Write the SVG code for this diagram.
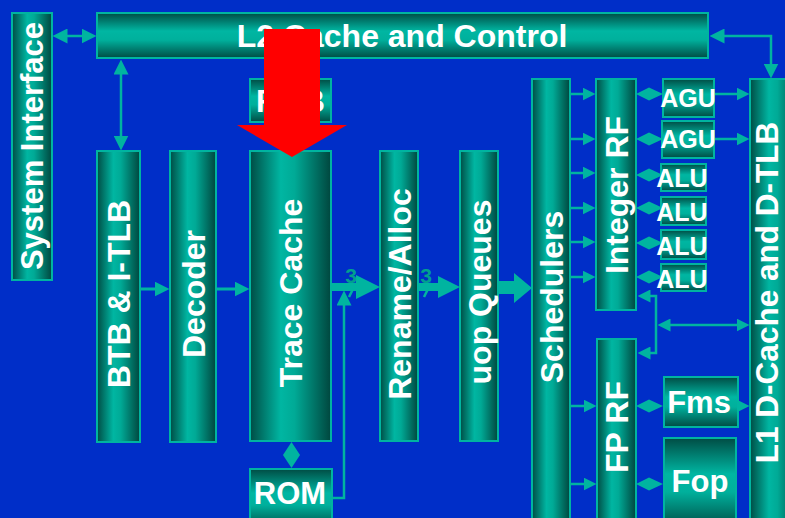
<svg xmlns="http://www.w3.org/2000/svg" xmlns:xlink="http://www.w3.org/1999/xlink" width="785" height="518" viewBox="0 0 785 518">
<style>
.node{stroke:#00b4a0;stroke-width:2}
.col{fill:url(#gcol)}
.bar{fill:url(#gbar)}
.lbl{font-family:"Liberation Sans",Arial,sans-serif;font-weight:bold;fill:#ffffff}
.v{font-size:32px}
.c{stroke:#00b4a0;stroke-width:2.5;fill:none}
.cw{stroke:#00b4a0;stroke-width:3;fill:none}
.tf{fill:#00b4a0}
.bw{font-family:"Liberation Sans",Arial,sans-serif;font-weight:bold;font-size:21px;fill:#00a08e}
</style>
<defs>
<linearGradient id="gcol" x1="0" y1="0" x2="1" y2="0">
<stop offset="0" stop-color="#004c44"/>
<stop offset="0.38" stop-color="#00b6a2"/>
<stop offset="0.55" stop-color="#00aa96"/>
<stop offset="1" stop-color="#00463e"/>
</linearGradient>
<linearGradient id="gbar" x1="0" y1="0" x2="0" y2="1">
<stop offset="0" stop-color="#004c44"/>
<stop offset="0.4" stop-color="#00b6a2"/>
<stop offset="0.6" stop-color="#00b09c"/>
<stop offset="1" stop-color="#004c44"/>
</linearGradient>
<marker id="ah" viewBox="0 0 15 15" refX="0.5" refY="7.5" markerWidth="15" markerHeight="15" markerUnits="userSpaceOnUse" orient="auto-start-reverse">
<path d="M0,0 L15,7.5 L0,15 z" fill="#00b4a0"/>
</marker>
<marker id="as" viewBox="0 0 13 13" refX="0.5" refY="6.5" markerWidth="13" markerHeight="13" markerUnits="userSpaceOnUse" orient="auto-start-reverse">
<path d="M0,0 L13,6.5 L0,13 z" fill="#00b4a0"/>
</marker>
<polygon id="dh" points="0,0 13,-6.5 27,0 13,6.5" fill="#00b4a0"/>
</defs>
<rect x="0" y="0" width="785" height="518" fill="#002ec8"/>

<g id="connectors">
<path class="c" d="M67,36 H82" marker-start="url(#ah)" marker-end="url(#ah)"/>
<path class="c" d="M121,74 V136" marker-start="url(#ah)" marker-end="url(#ah)"/>
<path class="c" d="M724,36 H771 V64" marker-start="url(#ah)" marker-end="url(#ah)"/>
<path class="cw" d="M140,289 H155" marker-end="url(#ah)"/>
<path class="cw" d="M216,289 H235" marker-end="url(#ah)"/>
<path class="tf" d="M331,283 H356 V275 L380,287 L356,299 V291 H331 z"/>
<path class="tf" d="M418,283 H438 V276 L460,287 L438,298 V291 H418 z"/>
<path class="tf" d="M498,281 H514 V273 L532,288 L514,303 V294 H498 z"/>
<path class="c" d="M332,498 H344 V305" marker-end="url(#ah)"/>
<text class="bw" x="351" y="283" text-anchor="middle">3</text>
<path class="c" d="M349,297 L356,283"/>
<text class="bw" x="426" y="283" text-anchor="middle">3</text>
<path class="c" d="M424,297 L431,283"/>
<path class="c" d="M570,94 H583" marker-end="url(#as)"/>
<path class="c" d="M570,139 H583" marker-end="url(#as)"/>
<path class="c" d="M570,173 H583" marker-end="url(#as)"/>
<path class="c" d="M570,208 H583" marker-end="url(#as)"/>
<path class="c" d="M570,242 H583" marker-end="url(#as)"/>
<path class="c" d="M570,277 H583" marker-end="url(#as)"/>
<path class="c" d="M570,406 H584" marker-end="url(#as)"/>
<path class="c" d="M570,484 H584" marker-end="url(#as)"/>
<use xlink:href="#dh" x="636" y="94"/>
<use xlink:href="#dh" x="636" y="139"/>
<use xlink:href="#dh" x="636" y="175"/>
<use xlink:href="#dh" x="636" y="208"/>
<use xlink:href="#dh" x="636" y="243"/>
<use xlink:href="#dh" x="636" y="277"/>
<use xlink:href="#dh" x="636" y="406"/>
<use xlink:href="#dh" x="636" y="484"/>
<polygon points="291.5,442 300,455 291.5,468 283,455" fill="#00b4a0"/>
<path class="c" d="M714,94 H737" marker-end="url(#as)"/>
<path class="c" d="M714,139 H737" marker-end="url(#as)"/>
<path class="c" d="M650,296 H656 V353 H650" marker-start="url(#as)" marker-end="url(#as)"/>
<path class="c" d="M670,325 H737" marker-start="url(#as)" marker-end="url(#as)"/>
<path class="c" d="M732,406 H737" marker-end="url(#as)"/>
</g>

<g id="system-interface"><rect class="node col" x="12" y="13" width="40" height="267"/>
<text class="lbl" font-size="31" transform="translate(32,146) rotate(-90)" x="0" y="11" text-anchor="middle">System Interface</text></g>
<g id="l2-cache"><rect class="node bar" x="97" y="13" width="611" height="45"/>
<text class="lbl" font-size="32" x="402" y="47" text-anchor="middle">L2 Cache and Control</text></g>
<g id="rob"><rect class="node bar" x="250" y="79" width="81" height="43"/>
<text class="lbl" font-size="31" x="290.5" y="112" text-anchor="middle">ROB</text></g>
<g id="btb"><rect class="node col" x="97" y="151" width="43" height="291"/>
<text class="lbl v" transform="translate(118.5,294) rotate(-90)" x="0" y="11.5" text-anchor="middle">BTB &amp; I-TLB</text></g>
<g id="decoder"><rect class="node col" x="170" y="151" width="46" height="291"/>
<text class="lbl v" transform="translate(193,294) rotate(-90)" x="0" y="11.5" text-anchor="middle">Decoder</text></g>
<g id="trace-cache"><rect class="node col" x="250" y="151" width="81" height="290"/>
<text class="lbl v" transform="translate(290.5,293) rotate(-90)" x="0" y="11.5" text-anchor="middle">Trace Cache</text></g>
<g id="rename"><rect class="node col" x="380" y="151" width="38" height="290"/>
<text class="lbl v" transform="translate(399,294) rotate(-90)" x="0" y="11.5" text-anchor="middle">Rename/Alloc</text></g>
<g id="uop-queues"><rect class="node col" x="460" y="151" width="38" height="290"/>
<text class="lbl v" transform="translate(479,292) rotate(-90)" x="0" y="11.5" text-anchor="middle">uop Queues</text></g>
<g id="schedulers"><rect class="node col" x="532" y="79" width="38" height="450"/>
<text class="lbl v" transform="translate(551,297) rotate(-90)" x="0" y="11.5" text-anchor="middle">Schedulers</text></g>
<g id="integer-rf"><rect class="node col" x="596" y="79" width="40" height="231"/>
<text class="lbl v" transform="translate(616,195) rotate(-90)" x="0" y="11.5" text-anchor="middle">Integer RF</text></g>
<g id="fp-rf"><rect class="node col" x="597" y="339" width="39" height="190"/>
<text class="lbl v" transform="translate(616.5,427) rotate(-90)" x="0" y="11.5" text-anchor="middle">FP RF</text></g>
<g id="agu1"><rect class="node bar" x="663" y="79" width="51" height="38"/>
<text class="lbl" font-size="25" x="688" y="107" text-anchor="middle">AGU</text></g>
<g id="agu2"><rect class="node bar" x="662" y="121" width="52" height="37"/>
<text class="lbl" font-size="25" x="688" y="148" text-anchor="middle">AGU</text></g>
<g id="alu1"><rect class="node bar" x="661" y="164" width="45" height="27"/>
<text class="lbl" font-size="25" x="682" y="187" text-anchor="middle">ALU</text></g>
<g id="alu2"><rect class="node bar" x="661" y="197" width="45" height="28"/>
<text class="lbl" font-size="25" x="682" y="221" text-anchor="middle">ALU</text></g>
<g id="alu3"><rect class="node bar" x="661" y="230" width="45" height="29"/>
<text class="lbl" font-size="25" x="682" y="255" text-anchor="middle">ALU</text></g>
<g id="alu4"><rect class="node bar" x="661" y="264" width="45" height="27"/>
<text class="lbl" font-size="25" x="682" y="288" text-anchor="middle">ALU</text></g>
<g id="l1-dcache"><rect class="node col" x="750" y="79" width="50" height="450"/>
<text class="lbl" font-size="31.5" transform="translate(768,292.5) rotate(-90)" x="0" y="10" text-anchor="middle">L1 D-Cache and D-TLB</text></g>
<g id="fms"><rect class="node bar" x="664" y="377" width="74" height="50"/>
<text class="lbl" font-size="31" x="699" y="413" text-anchor="middle">Fms</text></g>
<g id="fop"><rect class="node bar" x="664" y="438" width="72" height="90"/>
<text class="lbl" font-size="31" x="700" y="492" text-anchor="middle">Fop</text></g>
<g id="rom"><rect class="node bar" x="250" y="469" width="82" height="60"/>
<text class="lbl" font-size="31" x="290" y="504" text-anchor="middle">ROM</text></g>

<g id="highlight-arrow">
<polygon points="264,29 320,29 320,125 347,125 292,157 237,125 264,125" fill="#ff0000"/>
</g>
</svg>
